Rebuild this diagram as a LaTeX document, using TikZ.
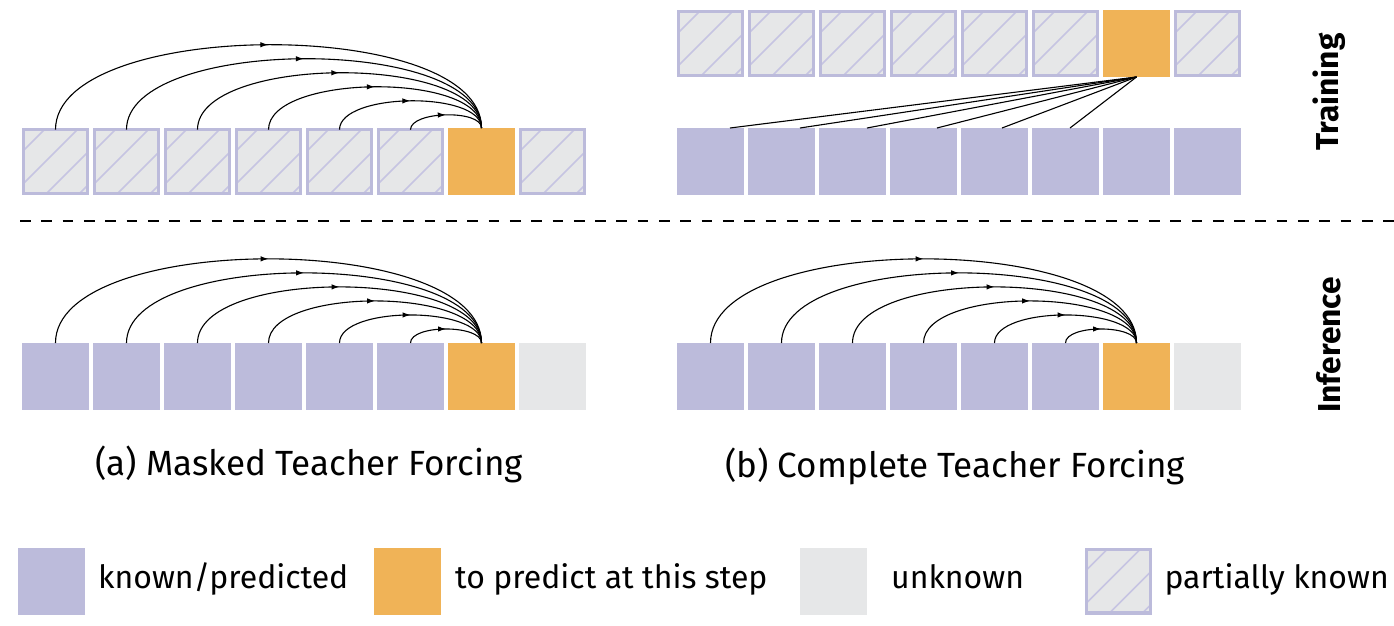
\documentclass[tikz,border=0pt]{standalone}
\usepackage{fontspec}
\setmainfont{Fira Sans}
\usetikzlibrary{arrows.meta,positioning,decorations.markings}
\definecolor{knowncol}{HTML}{BCBBDB}
\definecolor{predictcol}{HTML}{F0B357}
\definecolor{unknowncol}{HTML}{E6E7E8}
\definecolor{hatchcol}{HTML}{C6C4E2}
\tikzset{
  forcepicture/.style={x=1pt, y=-1pt},
  forcecell/.style={minimum width=67pt, minimum height=67pt, inner sep=0pt, outer sep=0pt},
  forceknown/.style={forcecell, fill=knowncol},
  forcepredict/.style={forcecell, fill=predictcol},
  forceunknown/.style={forcecell, fill=unknowncol},
  forcepartial/.style={forcecell, minimum width=63.6pt, minimum height=63.6pt, fill=unknowncol, draw=knowncol, line width=3.4pt,
    path picture={\foreach \c in {-43,-10,23,56} \draw[hatchcol, line width=1.7pt] ([xshift=\c pt]path picture bounding box.south west) -- ++(90pt,90pt);}},
  forcelabel/.style={font=\fontsize{32}{38}\selectfont, inner sep=0pt, text height=23pt, text depth=8pt},
  forcecaption/.style={forcelabel, font=\fontsize{35}{42}\selectfont, text height=25pt},
  forceside/.style={font=\fontsize{31.7}{38}\selectfont\bfseries, rotate=90, inner sep=0pt},
  forcearc/.style={line width=1.1pt, postaction={decorate},
    decoration={markings, mark=at position 0.5 with {\arrow{Latex[length=8pt,width=5.5pt]}}}},
  forceline/.style={line width=1.1pt}
}
\begin{document}
\begin{tikzpicture}[forcepicture]
\useasboundingbox (0,0) rectangle (1394,626);
% training, masked
\foreach \i in {1,...,6}
  \node[forcepartial] (ta\i) at (55.5+71*\i-71,161.5) {};
\node[forcepredict] (ta7) at (481.5,161.5) {};
\node[forcepartial] (ta8) at (552.5,161.5) {};
\foreach \i in {1,...,6}{
  \pgfmathsetmacro\kk{18.7*(7-\i)}
  \draw[forcearc] (ta\i.north) .. controls +(0pt,\kk pt) and +(0pt,\kk pt) .. (ta7.north);
}
% training, complete
\foreach \i in {1,...,6}
  \node[forcepartial] (tbu\i) at (710.5+71*\i-71,43.5) {};
\node[forcepredict] (tbu7) at (1136.5,43.5) {};
\node[forcepartial] (tbu8) at (1207.5,43.5) {};
\foreach \i in {1,...,8}
  \node[forceknown] (tbl\i) at (710.5+71*\i-71,161.5) {};
\foreach \i/\off in {1/53,2/52,3/48,4/47,5/41,6/38}
  \draw[forceline] (tbu7.south) -- ([xshift=\off pt]tbl\i.north west);
% inference
\foreach \i in {1,...,6}{
  \node[forceknown] (ia\i) at (55.5+71*\i-71,376.5) {};
  \node[forceknown] (ib\i) at (710.5+71*\i-71,376.5) {};
}
\node[forcepredict] (ia7) at (481.5,376.5) {};
\node[forceunknown] (ia8) at (552.5,376.5) {};
\node[forcepredict] (ib7) at (1136.5,376.5) {};
\node[forceunknown] (ib8) at (1207.5,376.5) {};
\foreach \i in {1,...,6}{
  \pgfmathsetmacro\kk{18.7*(7-\i)}
  \draw[forcearc] (ia\i.north) .. controls +(0pt,\kk pt) and +(0pt,\kk pt) .. (ia7.north);
  \draw[forcearc] (ib\i.north) .. controls +(0pt,\kk pt) and +(0pt,\kk pt) .. (ib7.north);
}
% divider and side labels
\draw[line width=2.7pt, dash pattern=on 10.7pt off 10.6pt] (20,221) -- (1394,221);
\node[forceside] (train) at (1329,92) {Training};
\node[forceside] (infer) at (1329,345) {Inference};
% captions
\node[forcecaption] (capa) at (309,467) {(a) Masked Teacher Forcing};
\node[forcecaption] (capb) at (955,469) {(b) Complete Teacher Forcing};
% legend
\node[forceknown] (legknown) at (51.5,581) {};
\node[forcelabel, right=13pt of legknown] (txtknown) {known/predicted};
\node[forcepredict] (legpredict) at (407.5,581) {};
\node[forcelabel, right=14pt of legpredict] (txtpredict) {to predict at this step};
\node[forceunknown] (legunknown) at (833.5,581) {};
\node[forcelabel, right=24pt of legunknown] (txtunknown) {unknown};
\node[forcepartial] (legpartial) at (1118.5,581) {};
\node[forcelabel, right=14pt of legpartial] (txtpartial) {partially known};
\end{tikzpicture}
\end{document}
